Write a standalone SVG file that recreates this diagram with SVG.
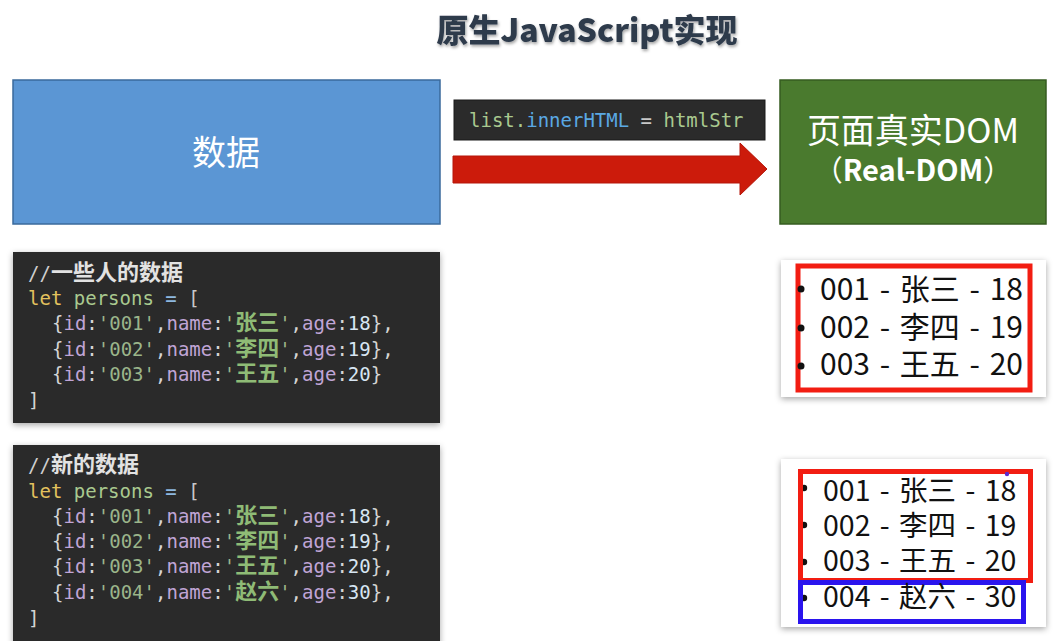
<svg xmlns="http://www.w3.org/2000/svg" width="1056" height="641" viewBox="0 0 1056 641">
<defs>
<filter id="tshadow" x="-10%" y="-30%" width="120%" height="170%"><feDropShadow dx="1" dy="2" stdDeviation="1.8" flood-color="#000" flood-opacity="0.35"/></filter>
<filter id="cshadow" x="-10%" y="-10%" width="120%" height="125%"><feDropShadow dx="0" dy="2" stdDeviation="3" flood-color="#000" flood-opacity="0.35"/></filter>
<style>
.title{font-family:"Noto Sans CJK SC","Noto Sans",sans-serif;font-weight:900;font-size:32px;fill:#2d3a4b}
.big{font-family:"Noto Sans CJK SC","Noto Sans",sans-serif;fill:#fff;text-anchor:middle}
.code{font-family:"DejaVu Sans Mono","Liberation Mono",monospace;font-size:19px;fill:#d4d4d4;white-space:pre}
.cjk{font-family:"Noto Sans CJK SC",sans-serif;font-weight:bold;font-size:22px}
.cm{fill:#e2e2e2}
.kw{fill:#e3c25e}
.var{fill:#a9c98f}
.op{fill:#8db8e0}
.key{fill:#c0a5d6}
.str{fill:#9bb58a}
.nm{fill:#8fbb76}
.num{fill:#d7e5f2}
.li{font-family:"Noto Sans CJK SC","Noto Sans",sans-serif;fill:#111;word-spacing:3px}
.card{fill:#fff;filter:url(#cshadow)}
.dark{fill:#2b2b2b;filter:url(#cshadow)}
</style>
</defs>
<rect width="1056" height="641" fill="#fff"/>

<g id="title"><text class="title" x="587" y="42" text-anchor="middle" filter="url(#tshadow)">原生JavaScript实现</text></g>

<g id="data-node">
<rect x="13" y="80" width="427" height="144" fill="#5b96d4" stroke="#3a6a9c" stroke-width="1.5"/>
<text class="big" x="226" y="165" font-size="34">数据</text>
</g>

<g id="realdom-node">
<rect x="780" y="80" width="266" height="144" fill="#4a7a2e" stroke="#365c20" stroke-width="1.5"/>
<text class="big" x="913" y="143" font-size="34">页面真实DOM</text>
<text class="big" x="913" y="181" font-size="29">（<tspan font-weight="bold">Real-DOM</tspan>）</text>
</g>

<g id="connectors">
<polygon points="453,156 740,156 740,143 767,169 740,195 740,183 453,183" fill="#cc1b0b" stroke="#b5170a" stroke-width="1"/>
<g id="connector-label">
<rect x="454" y="100" width="311" height="40" fill="#2b2b2b" stroke="#1a1a1a"/>
<text class="code" x="469" y="127" font-size="19.5"><tspan class="var">list.</tspan><tspan fill="#5aa8e3">innerHTML</tspan><tspan fill="#c8c8c8"> = </tspan><tspan class="var">htmlStr</tspan></text>
</g>
</g>

<g id="code-old">
<rect class="dark" x="13" y="252" width="427" height="171"/>
<text class="code" x="28" y="280"><tspan fill="#cfcfcf">//</tspan><tspan class="cjk cm" font-size="21">一些人的数据</tspan></text>
<text class="code" x="28" y="305"><tspan class="kw">let</tspan> <tspan class="var">persons</tspan> <tspan class="op">=</tspan> <tspan fill="#c8c8c8">[</tspan></text>
<text class="code" x="52" y="330">{<tspan class="key">id</tspan>:<tspan class="str">'001'</tspan>,<tspan class="key">name</tspan>:<tspan class="str">'</tspan><tspan class="cjk nm">张三</tspan><tspan class="str">'</tspan>,<tspan class="key">age</tspan>:<tspan class="num">18</tspan>},</text>
<text class="code" x="52" y="356">{<tspan class="key">id</tspan>:<tspan class="str">'002'</tspan>,<tspan class="key">name</tspan>:<tspan class="str">'</tspan><tspan class="cjk nm">李四</tspan><tspan class="str">'</tspan>,<tspan class="key">age</tspan>:<tspan class="num">19</tspan>},</text>
<text class="code" x="52" y="381">{<tspan class="key">id</tspan>:<tspan class="str">'003'</tspan>,<tspan class="key">name</tspan>:<tspan class="str">'</tspan><tspan class="cjk nm">王五</tspan><tspan class="str">'</tspan>,<tspan class="key">age</tspan>:<tspan class="num">20</tspan>}</text>
<text class="code" x="28" y="407" fill="#c8c8c8">]</text>
</g>

<g id="code-new">
<rect class="dark" x="13" y="445" width="427" height="200"/>
<text class="code" x="28" y="472"><tspan fill="#cfcfcf">//</tspan><tspan class="cjk cm" font-size="21">新的数据</tspan></text>
<text class="code" x="28" y="498"><tspan class="kw">let</tspan> <tspan class="var">persons</tspan> <tspan class="op">=</tspan> <tspan fill="#c8c8c8">[</tspan></text>
<text class="code" x="52" y="523">{<tspan class="key">id</tspan>:<tspan class="str">'001'</tspan>,<tspan class="key">name</tspan>:<tspan class="str">'</tspan><tspan class="cjk nm">张三</tspan><tspan class="str">'</tspan>,<tspan class="key">age</tspan>:<tspan class="num">18</tspan>},</text>
<text class="code" x="52" y="548">{<tspan class="key">id</tspan>:<tspan class="str">'002'</tspan>,<tspan class="key">name</tspan>:<tspan class="str">'</tspan><tspan class="cjk nm">李四</tspan><tspan class="str">'</tspan>,<tspan class="key">age</tspan>:<tspan class="num">19</tspan>},</text>
<text class="code" x="52" y="573">{<tspan class="key">id</tspan>:<tspan class="str">'003'</tspan>,<tspan class="key">name</tspan>:<tspan class="str">'</tspan><tspan class="cjk nm">王五</tspan><tspan class="str">'</tspan>,<tspan class="key">age</tspan>:<tspan class="num">20</tspan>},</text>
<text class="code" x="52" y="599">{<tspan class="key">id</tspan>:<tspan class="str">'004'</tspan>,<tspan class="key">name</tspan>:<tspan class="str">'</tspan><tspan class="cjk nm">赵六</tspan><tspan class="str">'</tspan>,<tspan class="key">age</tspan>:<tspan class="num">30</tspan>},</text>
<text class="code" x="28" y="625" fill="#c8c8c8">]</text>
</g>

<g id="list-old">
<rect class="card" x="781" y="260" width="265" height="137"/>
<rect x="798" y="266" width="232" height="124" fill="none" stroke="#f21d12" stroke-width="5"/>
<circle cx="801" cy="289" r="3.5" fill="#111"/>
<circle cx="801" cy="328" r="3.5" fill="#111"/>
<circle cx="801" cy="366" r="3.5" fill="#111"/>
<text class="li" x="820" y="300" font-size="30">001 - 张三 - 18</text>
<text class="li" x="820" y="338" font-size="30">002 - 李四 - 19</text>
<text class="li" x="820" y="375" font-size="30">003 - 王五 - 20</text>
</g>

<g id="list-new">
<rect class="card" x="781" y="459" width="265" height="168"/>
<circle cx="804" cy="488" r="3.2" fill="#111"/>
<circle cx="804" cy="525" r="3.2" fill="#111"/>
<circle cx="804" cy="562" r="3.2" fill="#111"/>
<circle cx="804" cy="598" r="3.2" fill="#111"/>
<rect x="800.5" y="471.5" width="230" height="109" fill="none" stroke="#f21d12" stroke-width="5"/>
<rect x="800.5" y="582.5" width="223" height="39" fill="none" stroke="#2a14ee" stroke-width="5"/>
<circle cx="1007" cy="474" r="2.2" fill="#5a2ad0"/>
<text class="li" x="823" y="501" font-size="28.5">001 - 张三 - 18</text>
<text class="li" x="823" y="536" font-size="28.5">002 - 李四 - 19</text>
<text class="li" x="823" y="571" font-size="28.5">003 - 王五 - 20</text>
<text class="li" x="823" y="607" font-size="28.5">004 - 赵六 - 30</text>
</g>
</svg>
